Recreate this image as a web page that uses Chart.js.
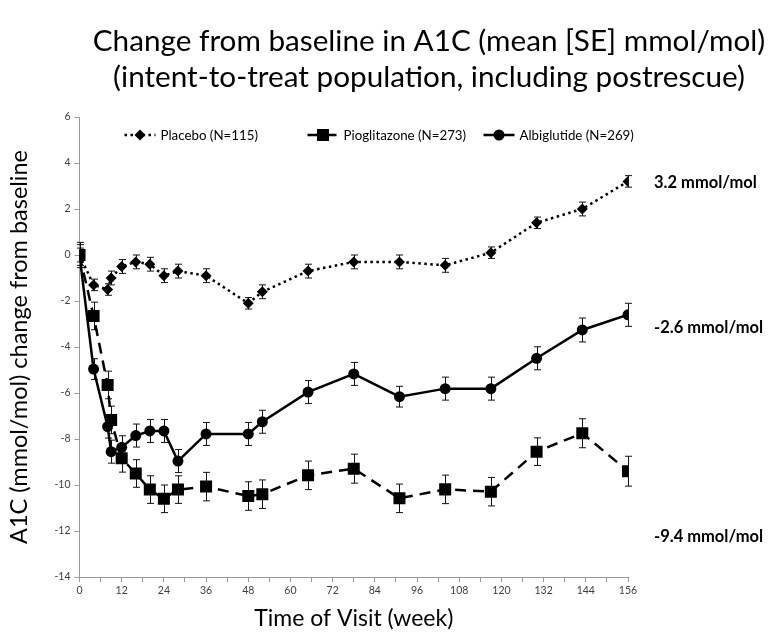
<!DOCTYPE html>
<html>
<head>
<meta charset="utf-8">
<script src="https://cdn.jsdelivr.net/npm/chart.js@4.4.1/dist/chart.umd.min.js"></script>
<style>
  html, body { margin: 0; padding: 0; background: #fff; }
</style>
</head>
<body>
<canvas id="chart-a1c" width="779" height="637"></canvas>
<script>
// visitas (semanas)
const semanas = [0, 4, 8, 9, 12, 16, 20, 24, 28, 36, 48, 52, 65, 78, 91, 104, 117, 130, 143, 156];

const placebo     = [0, -1.3, -1.5, -1.0, -0.5, -0.3, -0.4, -0.9, -0.7, -0.9, -2.1, -1.6, -0.7, -0.3, -0.3, -0.45, 0.1, 1.4, 2.0, 3.2];
const placeboSE   = [0.3, 0.25, 0.25, 0.3, 0.3, 0.3, 0.3, 0.3, 0.3, 0.3, 0.25, 0.3, 0.3, 0.3, 0.3, 0.3, 0.25, 0.25, 0.3, 0.25];

const pioglitazona   = [0, -2.65, -5.65, -7.17, -8.84, -9.5, -10.2, -10.6, -10.2, -10.07, -10.48, -10.4, -9.58, -9.29, -10.58, -10.19, -10.29, -8.55, -7.75, -9.4];
const pioglitazonaSE = [0.55, 0.6, 0.6, 0.6, 0.6, 0.6, 0.6, 0.6, 0.6, 0.62, 0.62, 0.62, 0.62, 0.63, 0.62, 0.62, 0.62, 0.6, 0.63, 0.65];

const albiglutida   = [0, -4.96, -7.46, -8.55, -8.36, -7.85, -7.65, -7.65, -8.96, -7.78, -7.78, -7.25, -5.96, -5.17, -6.16, -5.81, -5.81, -4.49, -3.26, -2.6];
const albiglutidaSE = [0.45, 0.45, 0.5, 0.5, 0.5, 0.5, 0.5, 0.5, 0.5, 0.5, 0.5, 0.5, 0.5, 0.5, 0.45, 0.5, 0.5, 0.5, 0.52, 0.5];

const legendas = ['Placebo (N=115)', 'Pioglitazone (N=273)', 'Albiglutide (N=269)'];
const rotulosFinais = ['3.2 mmol/mol', '-2.6 mmol/mol', '-9.4 mmol/mol'];
const titulo = ['Change from baseline in A1C (mean [SE] mmol/mol)', '(intent-to-treat population, including postrescue)'];

const FONTE = 'Lato, "Open Sans", sans-serif';

function pontos(ys) {
  return semanas.map((s, i) => ({ x: s, y: ys[i] }));
}

function marcador(ctx, estilo, x, y, r) {
  ctx.save();
  ctx.setLineDash([]);
  ctx.fillStyle = '#000';
  ctx.beginPath();
  if (estilo === 'rectRot') {
    ctx.moveTo(x, y - r); ctx.lineTo(x + r, y); ctx.lineTo(x, y + r); ctx.lineTo(x - r, y);
    ctx.closePath();
  } else if (estilo === 'rect') {
    const s = r * Math.SQRT1_2;
    ctx.rect(x - s, y - s, 2 * s, 2 * s);
  } else {
    ctx.arc(x, y, r, 0, Math.PI * 2);
  }
  ctx.fill();
  ctx.restore();
}

const barrasErro = {
  id: 'barrasErro',
  beforeDatasetsDraw(chart) {
    const { ctx, scales: { x, y } } = chart;
    const erros = [placeboSE, pioglitazonaSE, albiglutidaSE];
    ctx.save();
    ctx.strokeStyle = '#111';
    ctx.lineWidth = 1;
    chart.data.datasets.forEach((ds, k) => {
      ds.data.forEach((p, i) => {
        const px = Math.round(x.getPixelForValue(p.x)) + 0.5;
        const y1 = y.getPixelForValue(p.y + erros[k][i]);
        const y2 = y.getPixelForValue(p.y - erros[k][i]);
        ctx.beginPath();
        ctx.moveTo(px, y1); ctx.lineTo(px, y2);
        ctx.moveTo(px - 3.5, y1); ctx.lineTo(px + 3.5, y1);
        ctx.moveTo(px - 3.5, y2); ctx.lineTo(px + 3.5, y2);
        ctx.stroke();
      });
    });
    ctx.restore();
  }
};

const textos = {
  id: 'textos',
  afterDraw(chart) {
    const { ctx, chartArea, scales: { y } } = chart;
    ctx.save();
    // titulo
    ctx.fillStyle = '#000';
    ctx.textAlign = 'center';
    ctx.textBaseline = 'middle';
    ctx.font = '26px ' + FONTE;
    const w = ctx.measureText(titulo[0]).width;
    const tam = 26 * 672 / w;
    ctx.font = tam.toFixed(1) + 'px ' + FONTE;
    ctx.fillText(titulo[0], 429, 41);
    ctx.fillText(titulo[1], 429, 77);

    // legenda dentro da area
    const legX = [chartArea.left + 45, chartArea.left + 228, chartArea.left + 404];
    const ly = chartArea.top + 18;
    ctx.font = '13.3px ' + FONTE;
    ctx.textAlign = 'left';
    chart.data.datasets.forEach((ds, k) => {
      const x0 = legX[k];
      ctx.save();
      ctx.strokeStyle = '#000';
      ctx.lineWidth = ds.borderWidth;
      ctx.setLineDash(ds.borderDash || []);
      ctx.beginPath();
      ctx.moveTo(x0, ly); ctx.lineTo(x0 + 31, ly);
      ctx.stroke();
      ctx.restore();
      marcador(ctx, ds.pointStyle, x0 + 15.5, ly, ds.pointRadius);
      ctx.fillStyle = '#000';
      ctx.fillText(ds.label, x0 + 36, ly + 1);
    });

    // rotulos a direita
    ctx.font = 'bold 16.5px ' + FONTE;
    const ys = [3.15, -3.15, -12.25];
    rotulosFinais.forEach((t, k) => {
      ctx.fillText(t, chartArea.right + 26, y.getPixelForValue(ys[k]));
    });
    ctx.restore();
  }
};

new Chart(document.getElementById('chart-a1c').getContext('2d'), {
  type: 'line',
  data: {
    datasets: [{
      label: legendas[0],
      data: pontos(placebo),
      borderColor: '#000',
      borderWidth: 2.5,
      borderDash: [2.5, 3.5],
      pointStyle: 'rectRot',
      pointRadius: 5.5,
      pointBackgroundColor: '#000',
      pointBorderWidth: 0
    }, {
      label: legendas[1],
      data: pontos(pioglitazona),
      borderColor: '#000',
      borderWidth: 2.5,
      borderDash: [11, 7],
      pointStyle: 'rect',
      pointRadius: 8.5,
      pointBackgroundColor: '#000',
      pointBorderWidth: 0
    }, {
      label: legendas[2],
      data: pontos(albiglutida),
      borderColor: '#000',
      borderWidth: 2.5,
      pointStyle: 'circle',
      pointRadius: 5.5,
      pointBackgroundColor: '#000',
      pointBorderWidth: 0
    }]
  },
  options: {
    responsive: false,
    animation: false,
    devicePixelRatio: 1,
    layout: { padding: { top: 117, right: 151, left: 0, bottom: 0 } },
    plugins: {
      legend: { display: false },
      title: { display: false },
      tooltip: { enabled: false }
    },
    scales: {
      x: {
        type: 'linear',
        min: 0,
        max: 156,
        afterFit: s => { s.height = 60; },
        grid: { drawOnChartArea: false, tickLength: 5, color: '#999' },
        border: { color: '#999' },
        ticks: {
          stepSize: 6,
          autoSkip: false,
          maxRotation: 0,
          padding: 2,
          color: '#404040',
          font: { family: FONTE, size: 10.5 },
          callback: v => (v % 12 === 0 ? v : '')
        },
        title: {
          display: true,
          text: 'Time of Visit (week)',
          color: '#000',
          font: { family: FONTE, size: 23 },
          padding: { top: 0, bottom: 5 }
        }
      },
      y: {
        min: -14,
        max: 6,
        afterFit: s => { s.width = 79.5; },
        grid: { drawOnChartArea: false, tickLength: 5, color: '#999' },
        border: { color: '#999' },
        ticks: {
          stepSize: 2,
          padding: 4,
          color: '#404040',
          font: { family: FONTE, size: 10.5 }
        },
        title: {
          display: true,
          text: 'A1C (mmol/mol) change from baseline',
          color: '#000',
          font: { family: FONTE, size: 23.5 },
          padding: { top: 5, bottom: 0 }
        }
      }
    }
  },
  plugins: [barrasErro, textos]
});
</script>
</body>
</html>
